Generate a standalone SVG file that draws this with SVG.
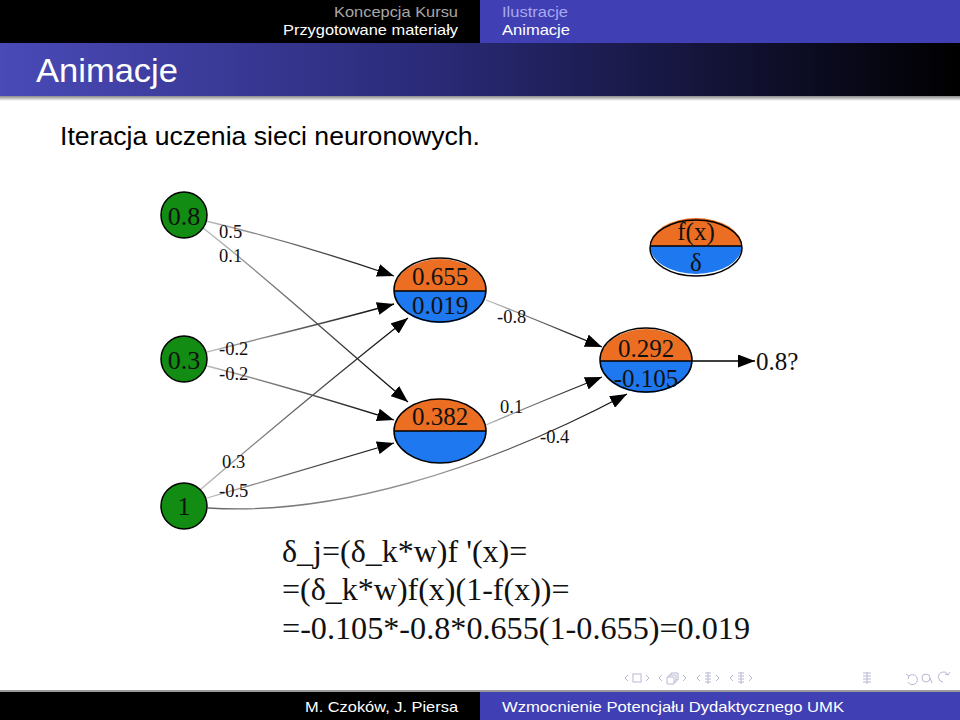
<svg xmlns="http://www.w3.org/2000/svg" width="960" height="720" viewBox="0 0 960 720">
<defs>
<style>
.hdr{font-family:"Liberation Sans","DejaVu Sans",sans-serif;font-size:15px}
.ser{font-family:"Liberation Serif","DejaVu Serif",serif}
.nt{font-size:25px;fill:#111;text-anchor:middle}
.ct{font-size:26px;fill:#111;text-anchor:middle}
.el{font-size:18.5px;fill:#111}
.edge{fill:none;stroke-width:1.3}
.orange{fill:#eb6e23}
.blue{fill:#1e78f0}
.outline{fill:none;stroke:#000;stroke-width:1.5}
.green{fill:#128c12;stroke:#000;stroke-width:1.5}
.nav{fill:none;stroke:#b8b8d4;stroke-width:1}
</style>
<linearGradient id="title" x1="0" y1="0" x2="1" y2="0">
<stop offset="0" stop-color="#4a4ab8"/>
<stop offset="0.45" stop-color="#2a2a78"/>
<stop offset="1" stop-color="#000"/>
</linearGradient>
<linearGradient id="shadow" x1="0" y1="0" x2="0" y2="1">
<stop offset="0" stop-color="#888"/>
<stop offset="1" stop-color="#fff"/>
</linearGradient>
<marker id="arr" markerUnits="userSpaceOnUse" markerWidth="17" markerHeight="13" refX="17" refY="6.5" orient="auto">
<path d="M0,0 L17,6.5 L0,13 z" fill="#000"/>
</marker>
<linearGradient id="g1" gradientUnits="userSpaceOnUse" x1="206" y1="221" x2="394" y2="276"><stop offset="0" stop-color="#bbb"/><stop offset="1" stop-color="#000"/></linearGradient>
<linearGradient id="g2" gradientUnits="userSpaceOnUse" x1="203" y1="228" x2="408" y2="402"><stop offset="0" stop-color="#bbb"/><stop offset="1" stop-color="#000"/></linearGradient>
<linearGradient id="g3" gradientUnits="userSpaceOnUse" x1="207" y1="352" x2="394" y2="304"><stop offset="0" stop-color="#bbb"/><stop offset="1" stop-color="#000"/></linearGradient>
<linearGradient id="g4" gradientUnits="userSpaceOnUse" x1="207" y1="366" x2="394" y2="420"><stop offset="0" stop-color="#bbb"/><stop offset="1" stop-color="#000"/></linearGradient>
<linearGradient id="g5" gradientUnits="userSpaceOnUse" x1="200" y1="490" x2="408" y2="318"><stop offset="0" stop-color="#bbb"/><stop offset="1" stop-color="#000"/></linearGradient>
<linearGradient id="g6" gradientUnits="userSpaceOnUse" x1="207" y1="498" x2="394" y2="443"><stop offset="0" stop-color="#bbb"/><stop offset="1" stop-color="#000"/></linearGradient>
<linearGradient id="g7" gradientUnits="userSpaceOnUse" x1="208" y1="508" x2="627" y2="394"><stop offset="0" stop-color="#666"/><stop offset="0.5" stop-color="#999"/><stop offset="1" stop-color="#000"/></linearGradient>
<linearGradient id="g8" gradientUnits="userSpaceOnUse" x1="486" y1="300" x2="602" y2="347"><stop offset="0" stop-color="#bbb"/><stop offset="1" stop-color="#000"/></linearGradient>
<linearGradient id="g9" gradientUnits="userSpaceOnUse" x1="486" y1="425" x2="602" y2="377"><stop offset="0" stop-color="#bbb"/><stop offset="1" stop-color="#000"/></linearGradient>
</defs>

<rect x="0" y="0" width="960" height="720" fill="#fff"/>

<!-- header -->
<g id="header">
<rect x="0" y="0" width="480" height="43" fill="#000"/>
<rect x="480" y="0" width="480" height="43" fill="#4040b4"/>
<text class="hdr" x="458" y="17" text-anchor="end" fill="#a8a8a8" textLength="124" lengthAdjust="spacingAndGlyphs">Koncepcja Kursu</text>
<text class="hdr" x="458" y="35" text-anchor="end" fill="#fff" textLength="175" lengthAdjust="spacingAndGlyphs">Przygotowane materiały</text>
<text class="hdr" x="502" y="17" fill="#a8a8f0" textLength="66" lengthAdjust="spacingAndGlyphs">Ilustracje</text>
<text class="hdr" x="502" y="35" fill="#fff" textLength="68" lengthAdjust="spacingAndGlyphs">Animacje</text>
<rect x="0" y="43" width="960" height="53" fill="url(#title)"/>
<rect x="0" y="96" width="960" height="5" fill="url(#shadow)"/>
<text x="36" y="82" fill="#fff" font-family="Liberation Sans, DejaVu Sans, sans-serif" font-size="34" textLength="142" lengthAdjust="spacingAndGlyphs">Animacje</text>
</g>

<text x="60" y="145" fill="#000" font-family="Liberation Sans, DejaVu Sans, sans-serif" font-size="25" textLength="420" lengthAdjust="spacingAndGlyphs">Iteracja uczenia sieci neuronowych.</text>

<!-- connectors -->
<g id="connectors">
<path class="edge" stroke="url(#g1)" d="M206,221 C260,234 330,254 394,276" marker-end="url(#arr)"/>
<path class="edge" stroke="url(#g2)" d="M203,228 C270,280 340,345 408,402" marker-end="url(#arr)"/>
<path class="edge" stroke="url(#g3)" d="M207,352 C270,336 330,322 394,304" marker-end="url(#arr)"/>
<path class="edge" stroke="url(#g4)" d="M207,366 C270,382 330,400 394,420" marker-end="url(#arr)"/>
<path class="edge" stroke="url(#g5)" d="M200,490 C270,430 340,372 408,318" marker-end="url(#arr)"/>
<path class="edge" stroke="url(#g6)" d="M207,498 C270,480 330,462 394,443" marker-end="url(#arr)"/>
<path class="edge" stroke="url(#g7)" d="M208,508 C330,516 480,472 627,394" marker-end="url(#arr)"/>
<path class="edge" stroke="url(#g8)" d="M486,300 C525,315 565,332 602,347" marker-end="url(#arr)"/>
<path class="edge" stroke="url(#g9)" d="M486,425 C525,408 565,392 602,377" marker-end="url(#arr)"/>
<path class="edge" stroke="#000" d="M692,361 L755,361" marker-end="url(#arr)"/>
<g class="ser el">
<text x="219" y="238">0.5</text>
<text x="219" y="262">0.1</text>
<text x="219" y="355">-0.2</text>
<text x="219" y="380">-0.2</text>
<text x="222" y="468">0.3</text>
<text x="219" y="497">-0.5</text>
<text x="497" y="323">-0.8</text>
<text x="500" y="413">0.1</text>
<text x="540" y="443">-0.4</text>
</g>
</g>

<!-- input nodes -->
<g id="in1" class="ser">
<circle class="green" cx="184" cy="215" r="23"/>
<text class="ct" x="184" y="225">0.8</text>
</g>
<g id="in2" class="ser">
<circle class="green" cx="184" cy="359" r="23"/>
<text class="ct" x="184" y="369">0.3</text>
</g>
<g id="in3" class="ser">
<circle class="green" cx="184" cy="506" r="23"/>
<text class="ct" x="184" y="515">1</text>
</g>

<!-- hidden 1 -->
<g id="h1" class="ser">
<path class="orange" d="M394,291 A46,32 0 0 1 486,291 Z"/>
<path class="blue" d="M394,291 A46,32 0 0 0 486,291 Z"/>
<ellipse class="outline" cx="440" cy="290" rx="46" ry="32"/>
<line x1="394" y1="291" x2="486" y2="291" stroke="#000" stroke-width="1.5"/>
<text class="nt" x="440" y="285">0.655</text>
<text class="nt" x="440" y="314">0.019</text>
</g>

<!-- hidden 2 -->
<g id="h2" class="ser">
<path class="orange" d="M394,431 A46,32 0 0 1 486,431 Z"/>
<path class="blue" d="M394,431 A46,32 0 0 0 486,431 Z"/>
<ellipse class="outline" cx="440" cy="431" rx="46" ry="32"/>
<line x1="394" y1="431" x2="486" y2="431" stroke="#000" stroke-width="1.5"/>
<text class="nt" x="440" y="425">0.382</text>
</g>

<!-- output node -->
<g id="out" class="ser">
<path class="orange" d="M600,361 A46,32 0 0 1 692,361 Z"/>
<path class="blue" d="M600,361 A46,32 0 0 0 692,361 Z"/>
<ellipse class="outline" cx="646" cy="360" rx="46" ry="32"/>
<line x1="600" y1="361" x2="692" y2="361" stroke="#000" stroke-width="1.5"/>
<text class="nt" x="646" y="357">0.292</text>
<text class="nt" x="646" y="387">-0.105</text>
</g>

<!-- legend node -->
<g id="legend" class="ser">
<path class="orange" d="M650,246 A46,28 0 0 1 742,246 Z"/>
<path class="blue" d="M650,246 A46,28 0 0 0 742,246 Z"/>
<ellipse class="outline" cx="696" cy="248" rx="46" ry="28"/>
<line x1="650" y1="246" x2="742" y2="246" stroke="#000" stroke-width="1.5"/>
<text class="nt" x="696" y="240">f(x)</text>
<text class="nt" x="696" y="271">δ</text>
</g>

<g id="result" class="ser">
<text x="756" y="370" font-size="25" fill="#111">0.8?</text>
</g>

<!-- formula -->
<g id="formula" class="ser" font-size="32" fill="#111">
<text x="282" y="562">δ_j=(δ_k*w)f '(x)=</text>
<text x="282" y="600">=(δ_k*w)f(x)(1-f(x))=</text>
<text x="282" y="639" textLength="468" lengthAdjust="spacingAndGlyphs">=-0.105*-0.8*0.655(1-0.655)=0.019</text>
</g>

<!-- navigation icons -->
<g id="navigation" class="nav">
<path d="M628,675 L625,678 L628,681"/>
<rect x="633" y="674" width="8" height="8"/>
<path d="M646,675 L649,678 L646,681"/>
<path d="M662,675 L659,678 L662,681"/>
<path d="M667,677 h7 v7 h-7 z M669,677 v-2 h7 v7 h-2 M671,675 v-2 h7 v7 h-2"/>
<path d="M683,675 L686,678 L683,681"/>
<path d="M700,675 L697,678 L700,681"/>
<path d="M705,673 h6 M705,676 h6 M705,679 h6 M705,682 h6 M708,672 v12"/>
<path d="M716,675 L719,678 L716,681"/>
<path d="M733,675 L730,678 L733,681"/>
<path d="M738,673 h6 M738,676 h6 M738,679 h6 M738,682 h6 M741,672 v12"/>
<path d="M749,675 L752,678 L749,681"/>
<path d="M863,673 h8 M863,676 h8 M863,679 h8 M863,682 h8 M867,672 v12"/>
<path d="M909,676 a5,5 0 1 1 -1,6 M906,674 l3,2 l-1,3"/>
<path d="M922,678 a4,4 0 1 0 8,0 a4,4 0 1 0 -8,0 M930,678 l2,5"/>
<path d="M943,682 a5,5 0 1 1 5,-7 M950,672 l-2,3 l-3,-1"/>
</g>

<!-- footer -->
<g id="footer">
<rect x="0" y="690" width="960" height="2" fill="#999"/>
<rect x="0" y="692" width="480" height="28" fill="#000"/>
<rect x="480" y="692" width="480" height="28" fill="#4040b4"/>
<text class="hdr" x="458" y="712" text-anchor="end" fill="#fff" textLength="153" lengthAdjust="spacingAndGlyphs">M. Czoków, J. Piersa</text>
<text class="hdr" x="502" y="712" fill="#fff" textLength="342" lengthAdjust="spacingAndGlyphs">Wzmocnienie Potencjału Dydaktycznego UMK</text>
</g>
</svg>
